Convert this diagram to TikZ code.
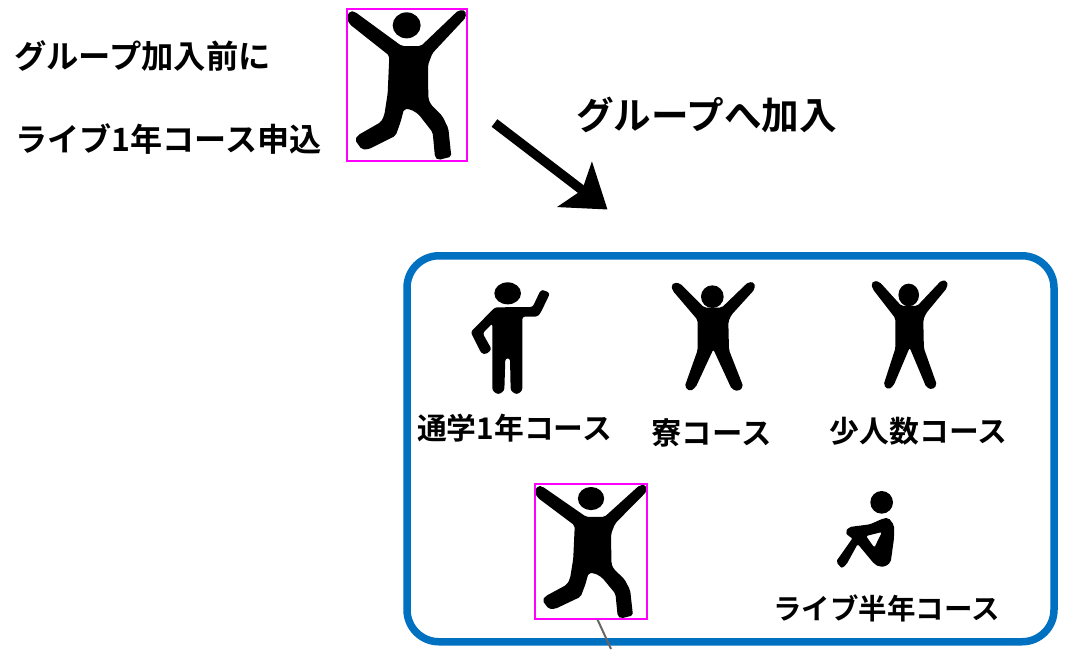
\documentclass[tikz,border=0pt]{standalone}
\usepackage{fontspec}
\setmainfont{Noto Sans CJK JP}
\newfontfamily\cjkbold{Noto Sans CJK JP Bold}
\usetikzlibrary{arrows.meta,positioning}
\definecolor{frameblue}{HTML}{0070C0}
\definecolor{pinkline}{HTML}{FF00FF}
\newcommand{\figjump}{%
  \fill (200,76) ellipse [x radius=42, y radius=39];
  \fill[rounded corners=2pt] (30,33) -- (44,35) -- (185,138) -- (243,138) -- (355,31) -- (376,31) -- (378,52) -- (277,160) -- (264,195) -- (265,295) -- (272,313) -- (307,348) -- (325,385) -- (334,470) -- (295,480) -- (285,472) -- (278,397) -- (235,342) -- (212,328) -- (192,327) -- (182,365) -- (167,407) -- (85,448) -- (65,448) -- (45,420) -- (53,406) -- (123,366) -- (133,345) -- (143,280) -- (148,167) -- (28,72) -- (20,52) -- cycle;
}
\newcommand{\figstar}{%
  \fill (757,80) circle [radius=34];
  \fill[rounded corners=2pt] (642,38) -- (660,40) -- (733,113) -- (785,113) -- (865,36) -- (884,38) -- (884,58) -- (814,135) -- (805,155) -- (807,240) -- (850,350) -- (835,364) -- (815,357) -- (760,238) -- (707,352) -- (690,364) -- (674,350) -- (713,240) -- (713,150) -- (638,62) -- (634,45) -- cycle;
}
\tikzset{
  textlabel/.style={inner sep=0pt, text=black},
  pinkbox/.style={draw=pinkline, line width=2pt, inner sep=0pt, fill=none},
  bigframe/.style={draw=frameblue, line width=7.5pt, rounded corners=32pt, inner sep=0pt, minimum width=647pt, minimum height=386pt},
  bigarrow/.style={line width=9.5pt, -{Stealth[length=41pt,width=56pt,inset=9pt]}},
}
\begin{document}
\begin{tikzpicture}[x=1pt,y=-1pt]
\useasboundingbox (0,0) rectangle (1076,649);
\fill[white] (0,0) rectangle (1076,649);

\node[bigframe] (frame) at (730.5,448.75) {};

% upper figure
\begin{scope}[shift={(340,0)},x=0.33333pt,y=-0.33333pt]\figjump\end{scope}
\node[pinkbox, minimum width=120pt, minimum height=151.4pt] (boxa) at (406.7,85) {};

% lower figure
\begin{scope}[shift={(534.7,484.3)},x=0.3130pt,y=-0.2967pt]\begin{scope}[shift={(-20,-28)}]\figjump\end{scope}\end{scope}
\node[pinkbox, minimum width=112.6pt, minimum height=134.7pt] (boxb) at (591,551.65) {};

% standing figure
\begin{scope}[shift={(460,270)},x=0.33333pt,y=-0.33333pt]
  \fill (143,70) ellipse [x radius=40, y radius=33];
  \fill[rounded corners=2.5pt] (252,60) -- (270,70) -- (241,130) -- (232,140) -- (187,140) -- (187,362) -- (170,374) -- (152,362) -- (150,265) -- (136,265) -- (133,362) -- (115,374) -- (97,362) -- (97,160) -- (68,190) -- (95,238) -- (78,253) -- (64,250) -- (32,186) -- (105,112) -- (218,111) -- (241,62) -- cycle;
\end{scope}

% star figures
\begin{scope}[shift={(460,270)},x=0.33333pt,y=-0.33333pt]\figstar\end{scope}
\begin{scope}[shift={(679.1,268.3)},x=0.30333pt,y=-0.33333pt]\figstar\end{scope}

% sitting figure
\begin{scope}[shift={(820,480)},x=0.33333pt,y=-0.33333pt]
  \fill (185,67) circle [radius=34];
  \fill[even odd rule, rounded corners=2pt] (88,141) -- (150,133) -- (188,116) -- (205,113) -- (222,135) -- (222,175) -- (212,247) -- (195,260) -- (178,260) -- (163,252) -- (113,192) -- (79,254) -- (65,265) -- (48,245) -- (98,174) -- (85,169) -- (76,155) -- cycle
    (138,168) -- (186,156) -- (163,203) -- cycle;
\end{scope}

% texts
\node[textlabel, font=\cjkbold\fontsize{32.3}{38}\selectfont] (t1) at (142.5,56) {グループ加入前に};
\node[textlabel, font=\cjkbold\fontsize{32.1}{38}\selectfont] (t2) at (168.3,139) {ライブ1年コース申込};
\node[textlabel, font=\cjkbold\fontsize{37.6}{44}\selectfont] (t3) at (706.5,115) {グループへ加入};
\node[textlabel, font=\cjkbold\fontsize{29.8}{36}\selectfont] (t4) at (514.5,428) {通学1年コース};
\node[textlabel, font=\cjkbold\fontsize{30.4}{36}\selectfont] (t5) at (711.5,433) {寮コース};
\node[textlabel, font=\cjkbold\fontsize{29.8}{36}\selectfont] (t6) at (918.5,431) {少人数コース};
\node[textlabel, font=\cjkbold\fontsize{28.5}{34}\selectfont] (t7) at (886.5,608) {ライブ半年コース};

% connectors
\coordinate (arrowstart) at (494.5,123);
\coordinate (arrowend) at (607.5,209.5);
\draw[bigarrow] (arrowstart) -- (arrowend);
\coordinate (leadstart) at (597.5,619.5);
\coordinate (leadend) at (611,649);
\draw[draw=black!60, line width=2pt] (leadstart) -- (leadend);
\end{tikzpicture}
\end{document}
